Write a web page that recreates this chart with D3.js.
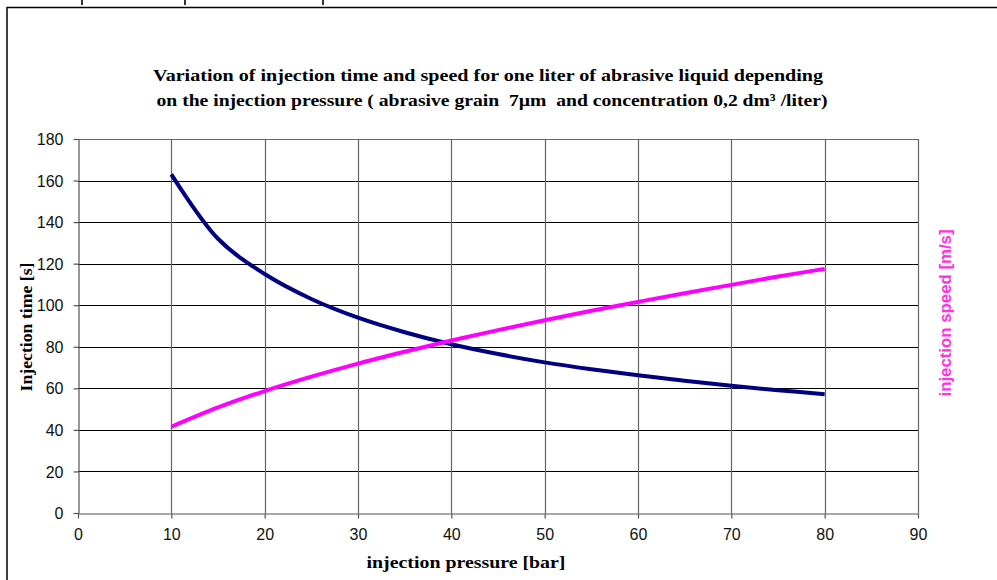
<!DOCTYPE html>
<html>
<head>
<meta charset="utf-8">
<script src="https://cdn.jsdelivr.net/npm/d3@7"></script>
<style>
  html, body { margin: 0; padding: 0; background: #fff; }
  svg { display: block; }
  text { white-space: pre; }
</style>
</head>
<body>
<svg id="chart" width="997" height="580"></svg>
<script>
// ---- data ----
const pressure = [10, 15, 20, 25, 30, 35, 40, 45, 50, 55, 60, 65, 70, 75, 80];
const injectionTime = [163, 132, 115, 103, 94, 87, 81.2, 76.5, 72.5, 69.2, 66.3, 63.6, 61.2, 59.1, 57.2];
const injectionSpeed = [41.5, 50.8, 58.7, 65.6, 71.9, 77.6, 83, 88, 92.8, 97.3, 101.6, 105.8, 109.8, 113.8, 117.5];
const xTicks = [0, 10, 20, 30, 40, 50, 60, 70, 80, 90];
const yTicks = [0, 20, 40, 60, 80, 100, 120, 140, 160, 180];
const titleLines = [
  "Variation of injection time and speed for one liter of abrasive liquid depending",
  "on the injection pressure ( abrasive grain  7\u00b5m  and concentration 0,2 dm\u00b3 /liter)"
];

const svg = d3.select("#chart");
const plot = { left: 78, right: 918, top: 139, bottom: 513 };
const x = d3.scaleLinear().domain([0, 90]).range([plot.left, plot.right]);
const y = d3.scaleLinear().domain([0, 180]).range([plot.bottom, plot.top]);

// outer frame (cut off at right/bottom in reference)
svg.append("path")
  .attr("d", `M7,1000 L7,7.5 L1000,7.5`)
  .attr("fill", "none").attr("stroke", "#000").attr("stroke-width", 1.5);
// fragments of text above the frame
[82, 185, 323].forEach(px => {
  svg.append("line").attr("x1", px).attr("x2", px).attr("y1", 0).attr("y2", 5)
    .attr("stroke", "#000").attr("stroke-width", 1.6);
});

// title
svg.append("text").attr("x", 488).attr("y", 81)
  .attr("text-anchor", "middle")
  .attr("font-family", "Liberation Serif, serif").attr("font-weight", "bold")
  .attr("font-size", 17).attr("textLength", 670).attr("lengthAdjust", "spacingAndGlyphs")
  .text(titleLines[0]);
svg.append("text").attr("x", 492).attr("y", 106)
  .attr("text-anchor", "middle")
  .attr("font-family", "Liberation Serif, serif").attr("font-weight", "bold")
  .attr("font-size", 17).attr("textLength", 671).attr("lengthAdjust", "spacingAndGlyphs")
  .text(titleLines[1]);

// grid: horizontal black, vertical gray
const g = svg.append("g");
g.selectAll("line.h").data(yTicks.filter(d => d > 0)).enter().append("line")
  .attr("x1", plot.left).attr("x2", plot.right)
  .attr("y1", d => Math.round(y(d)) + 0.5).attr("y2", d => Math.round(y(d)) + 0.5)
  .attr("stroke", d => d === 180 ? "#666" : "#000").attr("stroke-width", 1);
g.selectAll("line.v").data(xTicks.filter(d => d > 0)).enter().append("line")
  .attr("x1", d => Math.round(x(d)) + 0.5).attr("x2", d => Math.round(x(d)) + 0.5)
  .attr("y1", plot.top).attr("y2", plot.bottom)
  .attr("stroke", "#666").attr("stroke-width", 1.2);

// axes
const xAxis = d3.axisBottom(x).tickValues(xTicks).tickSize(5).tickSizeOuter(0);
const yAxis = d3.axisLeft(y).tickValues(yTicks).tickSize(5).tickSizeOuter(0);
const gx = svg.append("g").attr("transform", `translate(0,${Math.round(plot.bottom) + 0.5})`).call(xAxis);
const gy = svg.append("g").attr("transform", `translate(${plot.left + 0.5},0)`).call(yAxis);
[gx, gy].forEach(a => {
  a.attr("font-size", null).attr("font-family", null);
  a.select(".domain").attr("stroke", "#555").attr("stroke-width", 1.2);
  a.selectAll(".tick line").attr("stroke", "#555").attr("stroke-width", 1.2);
  a.selectAll(".tick text").style("font-family", "Liberation Sans, Arial, sans-serif")
    .style("font-size", "16px").attr("fill", "#111");
});
gx.selectAll(".tick text").attr("dy", "0").attr("y", 26);
gy.selectAll(".tick text").attr("x", -15).attr("dy", "0.35em");

// lines
const line = d3.line().x((d, i) => x(pressure[i])).y(d => y(d)).curve(d3.curveCatmullRom.alpha(0.5));
svg.append("path").datum(injectionTime).attr("d", line)
  .attr("fill", "none").attr("stroke", "#000080").attr("stroke-width", 4)
  .attr("stroke-linejoin", "round");
svg.append("path").datum(injectionSpeed).attr("d", line)
  .attr("fill", "none").attr("stroke", "#FF00FF").attr("stroke-width", 4)
  .attr("stroke-linejoin", "round");

// axis titles
svg.append("text").attr("transform", "translate(32,327) rotate(-90)")
  .attr("text-anchor", "middle")
  .attr("font-family", "Liberation Serif, serif").attr("font-weight", "bold")
  .attr("font-size", 17).attr("textLength", 129).attr("lengthAdjust", "spacingAndGlyphs")
  .text("Injection time [s]");
svg.append("text").attr("x", 466).attr("y", 568)
  .attr("text-anchor", "middle")
  .attr("font-family", "Liberation Serif, serif").attr("font-weight", "bold")
  .attr("font-size", 17).attr("textLength", 199).attr("lengthAdjust", "spacingAndGlyphs")
  .text("injection pressure [bar]");
svg.append("text").attr("transform", "translate(951,313) rotate(-90)")
  .attr("text-anchor", "middle")
  .attr("font-family", "Liberation Sans, Arial, sans-serif").attr("font-weight", "bold")
  .attr("font-size", 16).attr("fill", "#FF33DD")
  .attr("textLength", 167).attr("lengthAdjust", "spacingAndGlyphs")
  .text("injection speed [m/s]");
</script>
</body>
</html>
